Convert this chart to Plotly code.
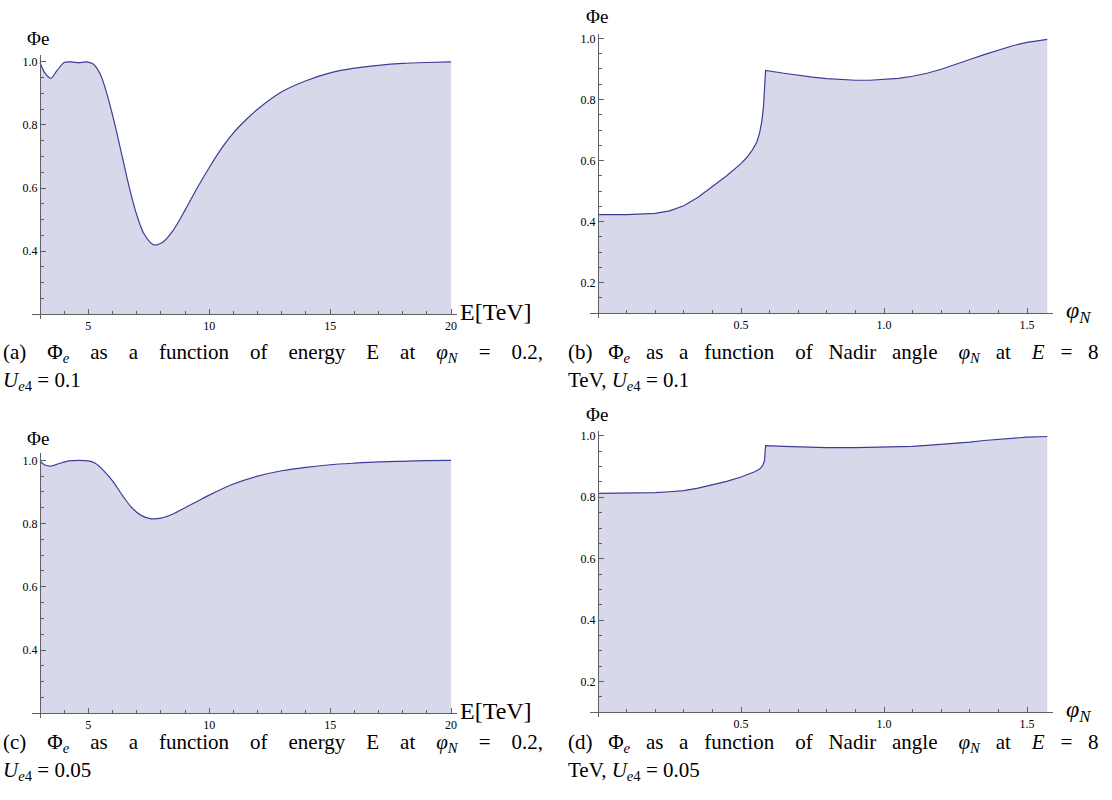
import plotly.graph_objects as go
import numpy as np

W, H = 1112, 800

# ---------------- data ----------------
# (a) Phi_e vs E, phi_N = 0.2, U_e4 = 0.1
E_a = [3.0, 3.2, 3.45, 3.7, 4.0, 4.3, 4.6, 4.9, 5.2, 5.5, 5.8, 6.1, 6.4, 6.7,
       7.0, 7.3, 7.7, 8.1, 8.5, 9.0, 9.5, 10.0, 10.5, 11.0, 11.5, 12.0, 13.0,
       14.0, 15.0, 16.0, 17.0, 18.0, 19.0, 20.0]
phi_a = [0.998, 0.965, 0.948, 0.972, 0.998, 1.0, 0.997, 1.0, 0.993, 0.96,
         0.89, 0.80, 0.70, 0.60, 0.515, 0.455, 0.42, 0.43, 0.465, 0.53, 0.60,
         0.665, 0.725, 0.775, 0.815, 0.85, 0.905, 0.94, 0.965, 0.98, 0.989,
         0.995, 0.998, 1.0]

# (b) Phi_e vs nadir angle, E = 8 TeV, U_e4 = 0.1
ang_b = [0.0, 0.1, 0.2, 0.25, 0.3, 0.35, 0.4, 0.45, 0.5, 0.52, 0.54, 0.555,
         0.565, 0.573, 0.579, 0.583, 0.586, 0.65, 0.7, 0.75, 0.8, 0.85, 0.9,
         0.95, 1.0, 1.05, 1.1, 1.15, 1.2, 1.25, 1.3, 1.35, 1.4, 1.45, 1.5,
         1.54, 1.5708]
phi_b = [0.423, 0.423, 0.427, 0.435, 0.452, 0.48, 0.515, 0.55, 0.59, 0.61,
         0.635, 0.66, 0.69, 0.73, 0.78, 0.84, 0.895, 0.886, 0.879, 0.873,
         0.868, 0.865, 0.863, 0.863, 0.865, 0.869, 0.876, 0.886, 0.899,
         0.914, 0.931, 0.947, 0.962, 0.976, 0.987, 0.994, 0.997]

# (c) Phi_e vs E, phi_N = 0.2, U_e4 = 0.05
E_c = [3.0, 3.2, 3.45, 3.8, 4.2, 4.6, 5.0, 5.3, 5.6, 6.0, 6.4, 6.8, 7.2,
       7.6, 8.0, 8.5, 9.0, 9.5, 10.0, 11.0, 12.0, 13.0, 14.0, 15.0, 16.0,
       17.0, 18.0, 19.0, 20.0]
phi_c = [0.997, 0.985, 0.982, 0.99, 0.998, 1.0, 0.998, 0.99, 0.97, 0.935,
         0.89, 0.85, 0.825, 0.815, 0.817, 0.83, 0.85, 0.87, 0.89, 0.925,
         0.95, 0.967, 0.978, 0.986, 0.991, 0.995, 0.997, 0.999, 1.0]

# (d) Phi_e vs nadir angle, E = 8 TeV, U_e4 = 0.05
ang_d = [0.0, 0.1, 0.2, 0.25, 0.3, 0.35, 0.4, 0.45, 0.5, 0.53, 0.55, 0.565,
         0.575, 0.582, 0.586, 0.65, 0.7, 0.8, 0.9, 1.0, 1.05, 1.1, 1.15,
         1.2, 1.25, 1.3, 1.35, 1.4, 1.45, 1.5, 1.5708]
phi_d = [0.813, 0.813, 0.815, 0.818, 0.822, 0.83, 0.84, 0.852, 0.866, 0.876,
         0.884, 0.892, 0.902, 0.918, 0.968, 0.966, 0.964, 0.962, 0.962,
         0.963, 0.964, 0.966, 0.969, 0.972, 0.976, 0.98, 0.985, 0.989,
         0.993, 0.996, 0.998]

# tick definitions
E_major = [5, 10, 15, 20]
E_minor = [3, 4, 6, 7, 8, 9, 11, 12, 13, 14, 16, 17, 18, 19]
ang_major = [0.5, 1.0, 1.5]
ang_minor = [0.1, 0.2, 0.3, 0.4, 0.6, 0.7, 0.8, 0.9, 1.1, 1.2, 1.3, 1.4]
yE_major = [0.4, 0.6, 0.8, 1.0]
yA_major = [0.2, 0.4, 0.6, 0.8, 1.0]

LINE = "#3d3d99"
FILL = "#d8d8eb"
AX = "#606060"
SERIF = "Liberation Serif, Times New Roman, Times, serif"

# panel geometry (pixels)
panels = [
    dict(x=E_a, y=phi_a, shape="spline", xo=3.0, xpx=40, xs=24.18, xdom=(32, 457),
         yo=0.2, ypy=313, ys=316.25, ydom=(318, 53), xmaj=E_major, xmin=E_minor,
         ymaj=yE_major, xfmt="d"),
    dict(x=ang_b, y=phi_b, shape="linear", xo=0.0, xpx=598, xs=286.0, xdom=(590, 1053),
         yo=0.1, ypy=312, ys=306.1, ydom=(317, 32), xmaj=ang_major, xmin=ang_minor,
         ymaj=yA_major, xfmt=".1f"),
    dict(x=E_c, y=phi_c, shape="spline", xo=3.0, xpx=40, xs=24.18, xdom=(32, 457),
         yo=0.2, ypy=713, ys=316.9, ydom=(718, 452), xmaj=E_major, xmin=E_minor,
         ymaj=yE_major, xfmt="d"),
    dict(x=ang_d, y=phi_d, shape="linear", xo=0.0, xpx=598, xs=286.0, xdom=(590, 1053),
         yo=0.1, ypy=712, ys=307.8, ydom=(717, 430), xmaj=ang_major, xmin=ang_minor,
         ymaj=yA_major, xfmt=".1f"),
]

fig = go.Figure()
layout = dict(width=W, height=H, margin=dict(l=0, r=0, t=0, b=0),
              paper_bgcolor="white", plot_bgcolor="rgba(0,0,0,0)",
              showlegend=False, font=dict(family=SERIF, color="black"))

for i, p in enumerate(panels, start=1):
    xa = "x" if i == 1 else f"x{i}"
    ya = "y" if i == 1 else f"y{i}"
    fig.add_trace(go.Scatter(x=[p["x"][0], p["x"][-1]], y=[p["yo"], p["yo"]],
                             mode="lines", line=dict(width=0, color=FILL),
                             hoverinfo="skip", xaxis=xa, yaxis=ya))
    fig.add_trace(go.Scatter(x=p["x"], y=p["y"], mode="lines", fill="tonexty",
                             fillcolor=FILL,
                             line=dict(color=LINE, width=1.2, shape=p["shape"],
                                       smoothing=0.8),
                             xaxis=xa, yaxis=ya))
    xr = [p["xo"] + (p["xdom"][0] - p["xpx"]) / p["xs"],
          p["xo"] + (p["xdom"][1] - p["xpx"]) / p["xs"]]
    yr = [p["yo"] - (p["ydom"][0] - p["ypy"]) / p["ys"],
          p["yo"] + (p["ypy"] - p["ydom"][1]) / p["ys"]]
    minor_y = [round(v, 2) for v in np.arange(p["yo"] + 0.05, 1.001, 0.05)
               if all(abs(v - m) > 1e-6 for m in p["ymaj"])]
    xkey = "xaxis" if i == 1 else f"xaxis{i}"
    ykey = "yaxis" if i == 1 else f"yaxis{i}"
    layout[xkey] = dict(
        domain=[p["xdom"][0] / W, p["xdom"][1] / W], range=xr,
        anchor="free", position=1 - p["ypy"] / H,
        showline=True, linecolor=AX, linewidth=1.3, showgrid=False, zeroline=False,
        tickmode="array", tickvals=p["xmaj"], tickformat=p["xfmt"],
        ticks="inside", ticklen=5, tickwidth=1, tickcolor=AX,
        tickfont=dict(family=SERIF, size=12, color="black"),
        minor=dict(tickmode="array", tickvals=p["xmin"], ticks="inside",
                   ticklen=3, tickwidth=1, tickcolor=AX, showgrid=False),
        fixedrange=True,
    )
    layout[ykey] = dict(
        domain=[1 - p["ydom"][0] / H, 1 - p["ydom"][1] / H], range=yr,
        anchor="free", position=p["xpx"] / W,
        showline=True, linecolor=AX, linewidth=1.3, showgrid=False, zeroline=False,
        tickmode="array", tickvals=p["ymaj"], tickformat=".1f",
        ticks="inside", ticklen=5, tickwidth=1, tickcolor=AX,
        tickfont=dict(family=SERIF, size=12, color="black"),
        minor=dict(tickmode="array", tickvals=minor_y, ticks="inside",
                   ticklen=3, tickwidth=1, tickcolor=AX, showgrid=False),
        fixedrange=True,
    )

fig.update_layout(**layout)

NB = "\u00a0"


def ann(x, y, text, size, xanchor="left", yanchor="middle"):
    fig.add_annotation(x=x / W, y=1 - y / H, xref="paper", yref="paper",
                       text=text, showarrow=False, xanchor=xanchor,
                       yanchor=yanchor,
                       font=dict(family=SERIF, size=size, color="black"))


# axis labels
for (x, y) in [(38, 37), (597, 15), (38, 438), (597, 414)]:
    ann(x, y, "\u03a6e", 19, xanchor="center")
for y in [311, 711]:
    ann(458, y, "E[TeV]", 24)
    ann(1064, y, "<i>\u03c6</i><sub><i>N</i></sub>", 24)


def just(words, gaps):
    out = words[0]
    for w, g in zip(words[1:], gaps):
        out += NB * g + w
    return out


phiE = "\u03a6<sub><i>e</i></sub>"
phiN = "<i>\u03c6</i><sub><i>N</i></sub>"
Ue4 = "<i>U</i><sub><i>e</i>4</sub>"

wordsA = ["(a)", phiE, "as", "a", "function", "of", "energy", "E", "at",
          phiN, "=", "0.2,"]
wordsB = ["(b)", phiE, "as", "a", "function", "of", "Nadir", "angle",
          phiN, "at", "<i>E</i>", "=", "8"]
gapsA = [4] * 11
gapsB = [3, 3, 3, 3, 4, 3, 3, 4, 3, 4, 3, 3]

ann(1, 352, just(wordsA, gapsA), 21)
ann(1, 380, Ue4 + " = 0.1", 21)
ann(566, 352, just(wordsB, gapsB), 21)
ann(566, 380, "TeV, " + Ue4 + " = 0.1", 21)
ann(1, 743, just(["(c)"] + wordsA[1:], gapsA), 21)
ann(1, 771, Ue4 + " = 0.05", 21)
ann(566, 743, just(["(d)"] + wordsB[1:], gapsB), 21)
ann(566, 771, "TeV, " + Ue4 + " = 0.05", 21)

fig.write_html("out.html")
